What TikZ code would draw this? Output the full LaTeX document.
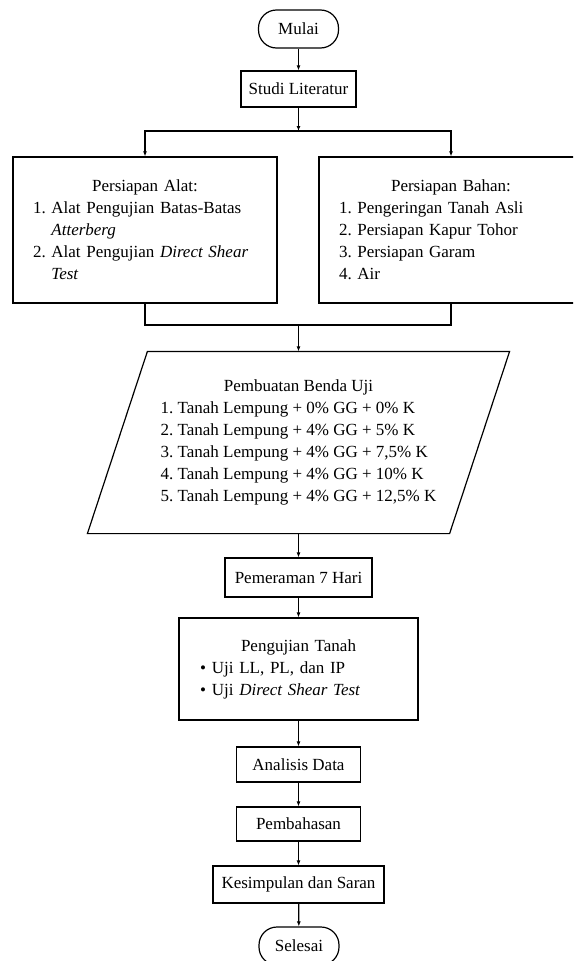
\documentclass[tikz,border=0pt]{standalone}
\usepackage{fontspec}
\setmainfont{Liberation Serif}
\usetikzlibrary{arrows.meta}
\frenchspacing

\tikzset{
  kotak/.style={draw,line width=1.2pt,inner sep=0pt,font=\fontsize{17}{22}\selectfont},
  terminal/.style={kotak,rounded corners=18pt},
  daftar/.style={kotak,align=left,text width=224pt},
  garis/.style={line width=1.2pt},
  panah/.style={garis,-{Latex[length=5pt,width=4pt]}}
}

\begin{document}
\begin{tikzpicture}[x=1pt,y=-1pt]
\clip (0,0) rectangle (573,961);

\node  [terminal,minimum width=80pt,minimum height=38pt] (mulai) at (298.5,29) {Mulai};
\node  [kotak,minimum width=115pt,minimum height=36pt] (studi) at (298.5,89) {Studi Literatur};

\node  [daftar,minimum width=264pt,minimum height=146pt] (alat) at (145,230) {\makebox[\linewidth]{Persiapan Alat:}\\
  1. Alat Pengujian Batas-Batas\\
  \phantom{1. }\textit{Atterberg}\\
  2. Alat Pengujian \textit{Direct Shear}\\
  \phantom{2. }\textit{Test}};
\node  [daftar,minimum width=264pt,minimum height=146pt] (bahan) at (451,230) {\makebox[\linewidth]{Persiapan Bahan:}\\
  1. Pengeringan Tanah Asli\\
  2. Persiapan Kapur Tohor\\
  3. Persiapan Garam\\
  4. Air};

\node  [kotak,draw=none,minimum width=361pt,minimum height=181pt] (benda) at (298.5,442.5) {\begin{tabular}{@{}l@{}}
  \multicolumn{1}{@{}c@{}}{Pembuatan Benda Uji}\\
  1. Tanah Lempung + 0\% GG + 0\% K\\
  2. Tanah Lempung + 4\% GG + 5\% K\\
  3. Tanah Lempung + 4\% GG + 7,5\% K\\
  4. Tanah Lempung + 4\% GG + 10\% K\\
  5. Tanah Lempung + 4\% GG + 12,5\% K
  \end{tabular}};
\draw  [garis] ([xshift=30pt]benda.north west) -- ([xshift=30pt]benda.north east) -- ([xshift=-30pt]benda.south east) -- ([xshift=-30pt]benda.south west) -- cycle;

\node  [kotak,minimum width=147pt,minimum height=39pt] (peram) at (298.5,577.5) {Pemeraman 7 Hari};
\node  [kotak,align=left,text width=197pt,minimum width=239pt,minimum height=102pt] (uji) at (298.5,669) {\makebox[\linewidth]{Pengujian Tanah}\\
  \textbullet\hspace{6pt}Uji LL, PL, dan IP\\
  \textbullet\hspace{6pt}Uji \textit{Direct Shear Test}};
\node  [kotak,minimum width=124pt,minimum height=35pt] (analisis) at (298.5,764.5) {Analisis Data};
\node  [kotak,minimum width=124pt,minimum height=34pt] (bahas) at (298.5,824) {Pembahasan};
\node  [kotak,minimum width=171pt,minimum height=37pt] (simpul) at (298.5,884.5) {Kesimpulan dan Saran};
\node  [terminal,minimum width=80pt,minimum height=38pt] (selesai) at (299,946) {Selesai};

\coordinate (pisah) at (298.5,131);
\coordinate (gabung) at (298.5,325);

\draw  [panah] (mulai) -- (studi);
\draw  [panah] (studi) -- (pisah);
\draw  [panah] (pisah) -| (alat);
\draw  [panah] (pisah) -| (bahan);
\draw  [garis] (alat) |- (gabung);
\draw  [garis] (bahan) |- (gabung);
\draw  [panah] (gabung) -- (benda);
\draw  [panah] (benda) -- (peram);
\draw  [panah] (peram) -- (uji);
\draw  [panah] (uji) -- (analisis);
\draw  [panah] (analisis) -- (bahas);
\draw  [panah] (bahas) -- (simpul);
\draw  [panah] (simpul) -- (selesai);

\end{tikzpicture}
\end{document}
